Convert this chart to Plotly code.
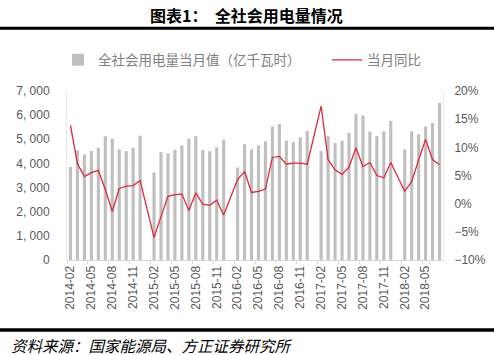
import plotly.graph_objects as go

months = [
    "2014-02","2014-03","2014-04","2014-05","2014-06","2014-07","2014-08","2014-09","2014-10","2014-11","2014-12",
    "2015-01","2015-02","2015-03","2015-04","2015-05","2015-06","2015-07","2015-08","2015-09","2015-10","2015-11","2015-12",
    "2016-01","2016-02","2016-03","2016-04","2016-05","2016-06","2016-07","2016-08","2016-09","2016-10","2016-11","2016-12",
    "2017-01","2017-02","2017-03","2017-04","2017-05","2017-06","2017-07","2017-08","2017-09","2017-10","2017-11","2017-12",
    "2018-01","2018-02","2018-03","2018-04","2018-05","2018-06","2018-07",
]

consumption = [
    3856, 4530, 4370, 4510, 4650, 5120, 5030, 4580, 4510, 4650, 5150,
    None, 3630, 4470, 4420, 4560, 4740, 5020, 5130, 4560, 4510, 4670, 4990,
    None, 3830, 4790, 4580, 4740, 4920, 5530, 5630, 4950, 4880, 5080, 5340,
    None, 4510, 5130, 4850, 4950, 5260, 6060, 5990, 5330, 5130, 5330, 5760,
    None, 4580, 5330, 5210, 5530, 5670, 6500,
]

yoy = [
    13.9, 7.1, 4.8, 5.5, 5.9, 2.5, -1.4, 2.7, 3.1, 3.2, 4.1,
    None, -6.0, -2.3, 1.3, 1.6, 1.7, -1.2, 1.9, -0.1, -0.3, 0.6, -2.0,
    None, 4.3, 5.7, 2.0, 2.2, 2.6, 8.2, 8.4, 7.0, 7.2, 7.2, 7.0,
    None, 17.3, 7.8, 6.0, 5.2, 6.5, 9.9, 6.6, 7.3, 5.0, 4.6, 7.3,
    None, 2.2, 3.9, 7.8, 11.4, 7.8, 6.9,
]

x_tick_labels = ["2014-02","2014-05","2014-08","2014-11","2015-02","2015-05","2015-08","2015-11",
                 "2016-02","2016-05","2016-08","2016-11","2017-02","2017-05","2017-08","2017-11",
                 "2018-02","2018-05"]
left_tick_vals = [0, 1000, 2000, 3000, 4000, 5000, 6000, 7000]
left_tick_text = ["0", "1, 000", "2, 000", "3, 000", "4, 000", "5, 000", "6, 000", "7, 000"]
right_tick_vals = [-10, -5, 0, 5, 10, 15, 20]
right_tick_text = ["−10%", "−5%", "0%", "5%", "10%", "15%", "20%"]

bar_name = "全社会用电量当月值（亿千瓦时）"
line_name = "当月同比"
title_text = "图表1：  全社会用电量情况"
source_text = "资料来源：国家能源局、方正证券研究所"

TICK_FONT = dict(family="Liberation Sans, Arial, sans-serif", size=12, color="#595959")
CJK = "Noto Sans CJK SC"
LEGEND_FONT = dict(family=CJK, size=13.5, color="#808080")

W, H = 494, 355
ML, MR, MT, MB = 67, 51, 91, 95


def px_to_paper_y(py):
    return (H - MB - py) / (H - MT - MB)


def px_to_paper_x(px):
    return (px - ML) / (W - ML - MR)


fig = go.Figure()
fig.add_trace(go.Bar(x=months, y=consumption, name=bar_name, legend="legend",
                     marker=dict(color="#BFBFBF", line=dict(width=0)), yaxis="y"))
fig.add_trace(go.Scatter(x=months, y=yoy, name=line_name, mode="lines", connectgaps=True,
                         legend="legend2",
                         line=dict(color="#E0283C", width=1.3), yaxis="y2"))

fig.update_layout(
    width=W, height=H,
    margin=dict(l=ML, r=MR, t=MT, b=MB, autoexpand=False),
    paper_bgcolor="white", plot_bgcolor="white",
    bargap=0.55,
    showlegend=True,
    legend=dict(orientation="h", x=px_to_paper_x(58), xanchor="left",
                y=px_to_paper_y(60), yanchor="middle", font=LEGEND_FONT,
                bgcolor="rgba(0,0,0,0)", borderwidth=0),
    legend2=dict(orientation="h", x=px_to_paper_x(327), xanchor="left",
                 y=px_to_paper_y(60), yanchor="middle", font=LEGEND_FONT,
                 bgcolor="rgba(0,0,0,0)", borderwidth=0),
    xaxis=dict(type="category", categoryorder="array", categoryarray=months,
               tickmode="array", tickvals=x_tick_labels, ticktext=x_tick_labels,
               tickangle=-90, tickfont=TICK_FONT, showgrid=False,
               showline=True, linecolor="#D9D9D9", linewidth=1,
               ticks="outside", ticklen=3, tickcolor="#D9D9D9", tickson="boundaries",
               zeroline=False),
    yaxis=dict(range=[0, 7000], tickmode="array", tickvals=left_tick_vals, ticktext=left_tick_text,
               tickfont=TICK_FONT, showgrid=False, zeroline=False,
               showline=True, linecolor="#EBEBEB", linewidth=1, ticks="",
               ticklabelstandoff=14),
    yaxis2=dict(range=[-10, 20], overlaying="y", side="right", tickmode="array",
                tickvals=right_tick_vals, ticktext=right_tick_text, tickfont=TICK_FONT,
                showgrid=False, zeroline=False, showline=True, linecolor="#EBEBEB",
                linewidth=1, ticks="", ticklabelstandoff=8),
    annotations=[
        dict(text="<b>" + title_text + "</b>", xref="paper", yref="paper",
             x=px_to_paper_x(246), y=px_to_paper_y(15),
             xanchor="center", yanchor="middle", showarrow=False,
             font=dict(family=CJK, size=16, color="black")),
        dict(text="<i>" + source_text + "</i>", xref="paper", yref="paper",
             x=px_to_paper_x(9), y=px_to_paper_y(345),
             xanchor="left", yanchor="middle", showarrow=False,
             font=dict(family=CJK, size=15.5, color="black")),
    ],
    shapes=[
        dict(type="line", xref="paper", yref="paper", x0=px_to_paper_x(0), x1=px_to_paper_x(494),
             y0=px_to_paper_y(28.3), y1=px_to_paper_y(28.3), line=dict(color="black", width=3),
             layer="above"),
        dict(type="line", xref="paper", yref="paper", x0=px_to_paper_x(0), x1=px_to_paper_x(494),
             y0=px_to_paper_y(330), y1=px_to_paper_y(330), line=dict(color="black", width=3.5),
             layer="above"),
    ],
)

fig.write_html(
    "out.html",
    config={"displayModeBar": False},
    post_script="document.body.style.margin='0';document.body.style.padding='0';"
                "document.documentElement.style.overflow='hidden';",
)
